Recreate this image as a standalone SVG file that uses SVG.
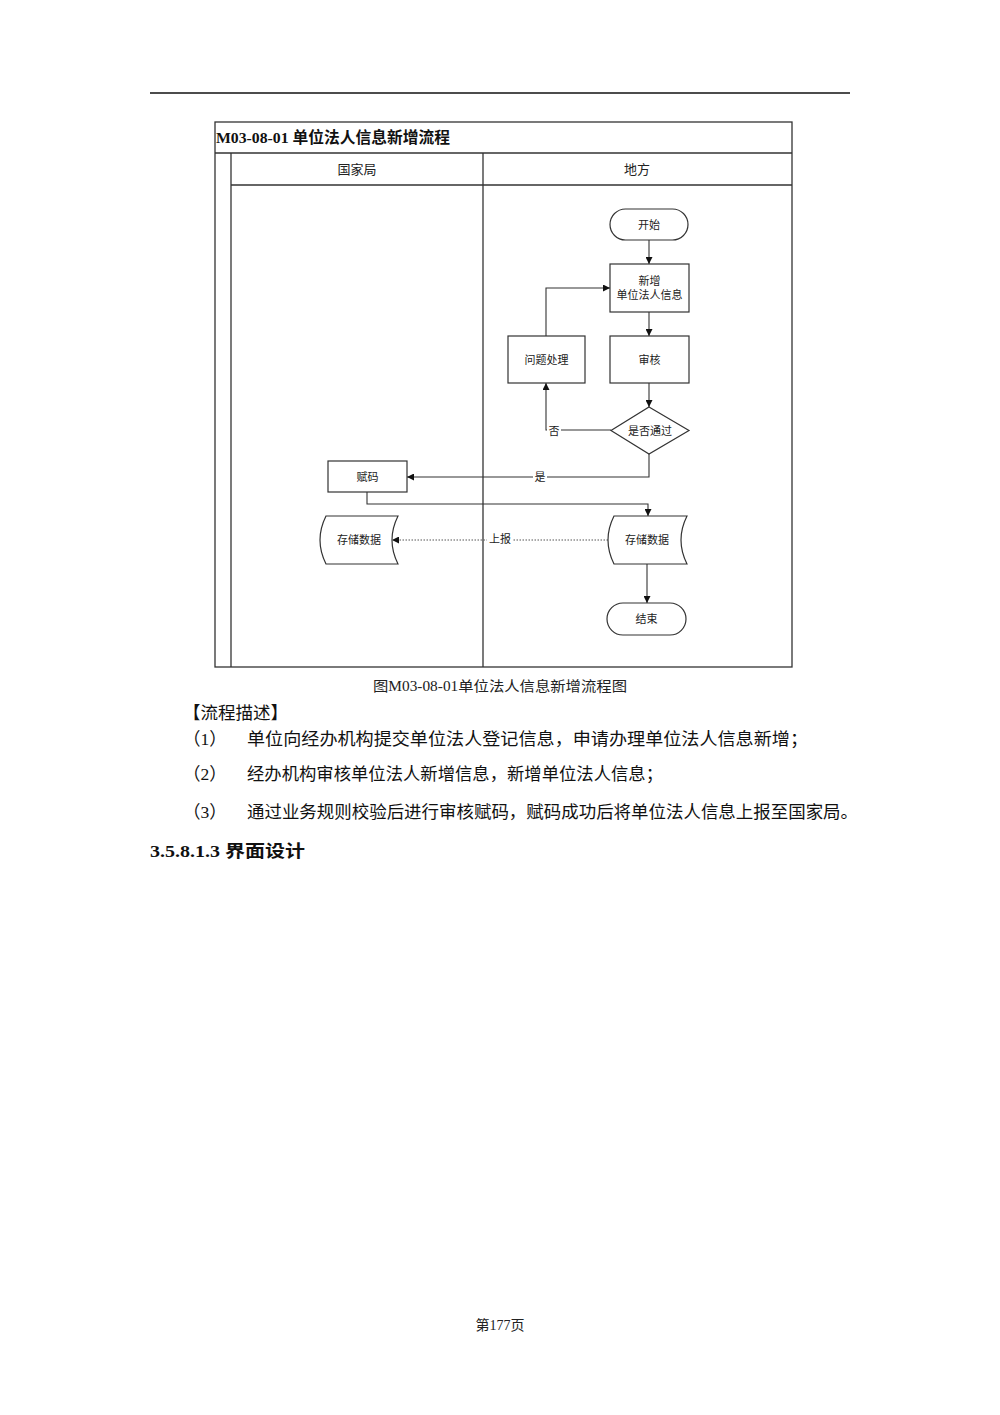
<svg xmlns="http://www.w3.org/2000/svg" width="1000" height="1415" viewBox="0 0 1000 1415">
<defs>
<marker id="arr" viewBox="0 0 10 10" refX="10" refY="5" markerWidth="7" markerHeight="7" markerUnits="userSpaceOnUse" orient="auto">
<path d="M0,0 L10,5 L0,10 Z" fill="#111"/>
</marker>
<style>
.frame{fill:none;stroke:#333;stroke-width:1.3}
.node{fill:#fff;stroke:#333;stroke-width:1.2}
.conn{fill:none;stroke:#333;stroke-width:1.1}
.dot{fill:none;stroke:#555;stroke-width:1;stroke-dasharray:1.5 1.5}
.lbl{font-family:"Liberation Sans","Noto Sans CJK SC",sans-serif;font-size:11px;fill:#222;text-anchor:middle;dominant-baseline:central}
.hdr{font-family:"Liberation Sans","Noto Sans CJK SC",sans-serif;font-size:13px;fill:#222;text-anchor:middle;dominant-baseline:central}
.body{font-family:"Liberation Serif","Noto Sans CJK SC",serif;font-size:17.5px;fill:#111}
.cap{font-family:"Liberation Serif","Noto Sans CJK SC",serif;font-size:14px;fill:#222}
</style>
</defs>
<rect width="1000" height="1415" fill="#fff"/>
<line x1="150" y1="93" x2="850" y2="93" stroke="#111" stroke-width="1.5"/>

<g id="pool">
<rect class="frame" x="215" y="122" width="577" height="545"/>
<line class="frame" x1="215" y1="153" x2="792" y2="153"/>
<line class="frame" x1="231" y1="153" x2="231" y2="667"/>
<line class="frame" x1="231" y1="185" x2="792" y2="185"/>
<line class="frame" x1="483" y1="153" x2="483" y2="667"/>
<text x="216" y="143" font-family="Liberation Serif,'Noto Sans CJK SC',serif" font-size="15.5" font-weight="bold" fill="#111" textLength="234" lengthAdjust="spacingAndGlyphs">M03-08-01 单位法人信息新增流程</text>
<text class="hdr" x="357" y="169">国家局</text>
<text class="hdr" x="637" y="169">地方</text>
</g>

<g id="connectors">
<line class="conn" x1="649" y1="240" x2="649" y2="264" marker-end="url(#arr)"/>
<line class="conn" x1="649" y1="312" x2="649" y2="336" marker-end="url(#arr)"/>
<line class="conn" x1="649" y1="383" x2="649" y2="407" marker-end="url(#arr)"/>
<polyline class="conn" points="611,430 546,430 546,383" marker-end="url(#arr)"/>
<polyline class="conn" points="546,336 546,288 610,288" marker-end="url(#arr)"/>
<polyline class="conn" points="649,454 649,477 407,477" marker-end="url(#arr)"/>
<polyline class="conn" points="367,492 367,504 648,504 648,516" marker-end="url(#arr)"/>
<line class="dot" x1="608" y1="540" x2="392" y2="540" marker-end="url(#arr)"/>
<line class="conn" x1="647" y1="564" x2="647" y2="603" marker-end="url(#arr)"/>
<rect x="547" y="423" width="14" height="15" fill="#fff"/>
<text class="lbl" x="554" y="431">否</text>
<rect x="533" y="470" width="14" height="14" fill="#fff"/>
<text class="lbl" x="540" y="477">是</text>
<rect x="487" y="532" width="26" height="15" fill="#fff"/>
<text class="lbl" x="500" y="539">上报</text>
</g>

<g id="start">
<rect class="node" x="610" y="209" width="78" height="31" rx="15.5"/>
<text class="lbl" x="649" y="224.5">开始</text>
</g>
<g id="add">
<rect class="node" x="610" y="264" width="79" height="48"/>
<text class="lbl" x="649.5" y="281">新增</text>
<text class="lbl" x="649.5" y="295">单位法人信息</text>
</g>
<g id="review">
<rect class="node" x="610" y="336" width="79" height="47"/>
<text class="lbl" x="649.5" y="359.5">审核</text>
</g>
<g id="problem">
<rect class="node" x="508" y="336" width="77" height="47"/>
<text class="lbl" x="546.5" y="359.5">问题处理</text>
</g>
<g id="decision">
<polygon class="node" points="649,407 689,430.5 649,454 611,430.5"/>
<text class="lbl" x="650" y="431">是否通过</text>
</g>
<g id="code">
<rect class="node" x="328" y="461" width="79" height="31"/>
<text class="lbl" x="367.5" y="476.5">赋码</text>
</g>
<g id="store-local">
<path class="node" d="M614,516 L687,516 Q675,540 687,564 L614,564 Q602,540 614,516 Z"/>
<text class="lbl" x="647" y="540">存储数据</text>
</g>
<g id="store-national">
<path class="node" d="M326,516 L398,516 Q386,540 398,564 L326,564 Q314,540 326,516 Z"/>
<text class="lbl" x="359" y="540">存储数据</text>
</g>
<g id="end">
<rect class="node" x="607" y="603" width="79" height="32" rx="16"/>
<text class="lbl" x="646.5" y="619">结束</text>
</g>

<text class="cap" x="373" y="691" textLength="254" lengthAdjust="spacingAndGlyphs">图M03-08-01单位法人信息新增流程图</text>
<text class="body" x="183" y="719">【流程描述】</text>
<text class="body" x="183" y="745">（1）</text>
<text class="body" x="247" y="745" textLength="561" lengthAdjust="spacingAndGlyphs">单位向经办机构提交单位法人登记信息，申请办理单位法人信息新增；</text>
<text class="body" x="183" y="780">（2）</text>
<text class="body" x="247" y="780" textLength="416" lengthAdjust="spacingAndGlyphs">经办机构审核单位法人新增信息，新增单位法人信息；</text>
<text class="body" x="183" y="818">（3）</text>
<text class="body" x="247" y="818" textLength="611" lengthAdjust="spacingAndGlyphs">通过业务规则校验后进行审核赋码，赋码成功后将单位法人信息上报至国家局。</text>
<text x="150" y="857" font-family="Liberation Serif,'Noto Sans CJK SC',serif" font-size="17" font-weight="bold" fill="#111" textLength="155" lengthAdjust="spacingAndGlyphs">3.5.8.1.3 界面设计</text>
<text class="cap" x="500" y="1330" text-anchor="middle">第177页</text>
</svg>
